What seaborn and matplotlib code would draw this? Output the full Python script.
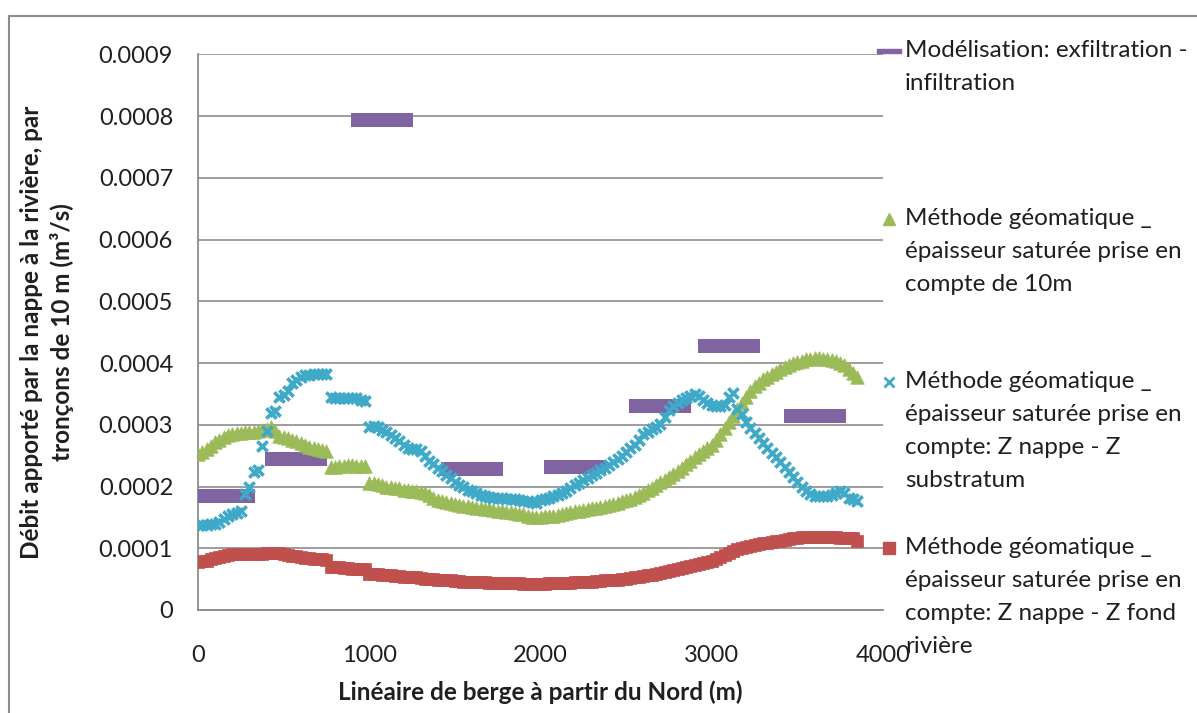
import numpy as np
import pandas as pd
import seaborn as sns
import matplotlib.pyplot as plt
from matplotlib.lines import Line2D

# %% Data (debits in 1e-4 m3/s, one reading every 25 m along the bank)

x_m = np.arange(0, 3851, 25)

red_fond = [0.78, 0.79, 0.80, 0.82, 0.84, 0.86, 0.88, 0.89, 0.90, 0.90,
            0.90, 0.90, 0.91, 0.91, 0.91, 0.91, 0.92, 0.92, 0.92, 0.92,
            0.90, 0.89, 0.88, 0.87, 0.86, 0.85, 0.84, 0.83, 0.82, 0.82,
            0.81, 0.70, 0.69, 0.69, 0.68, 0.68, 0.67, 0.67, 0.66, 0.66,
            0.59, 0.58, 0.58, 0.57, 0.56, 0.56, 0.55, 0.55, 0.54, 0.54,
            0.53, 0.53, 0.52, 0.51, 0.50, 0.50, 0.49, 0.49, 0.48, 0.48,
            0.47, 0.47, 0.46, 0.46, 0.46, 0.45, 0.45, 0.45, 0.44, 0.44,
            0.44, 0.44, 0.43, 0.43, 0.43, 0.43, 0.42, 0.42, 0.42, 0.42,
            0.42, 0.42, 0.43, 0.43, 0.43, 0.43, 0.44, 0.44, 0.45, 0.45,
            0.46, 0.46, 0.46, 0.47, 0.47, 0.48, 0.48, 0.49, 0.49, 0.50,
            0.51, 0.52, 0.53, 0.54, 0.55, 0.56, 0.57, 0.59, 0.60, 0.62,
            0.63, 0.65, 0.66, 0.68, 0.70, 0.71, 0.73, 0.74, 0.76, 0.78,
            0.80, 0.83, 0.86, 0.89, 0.92, 0.95, 0.98, 1.00, 1.02, 1.04,
            1.05, 1.07, 1.08, 1.09, 1.10, 1.11, 1.12, 1.14, 1.15, 1.16,
            1.17, 1.18, 1.19, 1.19, 1.19, 1.19, 1.19, 1.19, 1.18, 1.18,
            1.17, 1.17, 1.17, 1.16, 1.12]

green_10m = [2.52, 2.56, 2.60, 2.66, 2.72, 2.76, 2.80, 2.83, 2.85, 2.86,
             2.87, 2.88, 2.89, 2.89, 2.90, 2.91, 2.93, 2.96, 2.90, 2.82,
             2.80, 2.78, 2.76, 2.73, 2.70, 2.67, 2.64, 2.62, 2.60, 2.59,
             2.58, 2.32, 2.32, 2.33, 2.34, 2.35, 2.35, 2.34, 2.33, 2.33,
             2.06, 2.05, 2.04, 2.02, 2.00, 1.99, 1.98, 1.97, 1.95, 1.94,
             1.93, 1.92, 1.91, 1.89, 1.86, 1.82, 1.78, 1.77, 1.75, 1.74,
             1.72, 1.70, 1.69, 1.68, 1.67, 1.66, 1.65, 1.64, 1.63, 1.62,
             1.61, 1.60, 1.59, 1.58, 1.57, 1.56, 1.55, 1.53, 1.51, 1.50,
             1.51, 1.52, 1.53, 1.53, 1.54, 1.55, 1.57, 1.58, 1.60, 1.61,
             1.62, 1.63, 1.65, 1.66, 1.67, 1.68, 1.70, 1.72, 1.74, 1.76,
             1.78, 1.80, 1.83, 1.86, 1.90, 1.94, 1.98, 2.02, 2.07, 2.11,
             2.15, 2.20, 2.25, 2.30, 2.36, 2.41, 2.47, 2.52, 2.57, 2.62,
             2.67, 2.76, 2.85, 2.95, 3.05, 3.15, 3.25, 3.35, 3.45, 3.54,
             3.62, 3.68, 3.74, 3.78, 3.82, 3.86, 3.90, 3.94, 3.97, 4.00,
             4.02, 4.04, 4.06, 4.07, 4.08, 4.08, 4.07, 4.06, 4.05, 4.04,
             4.00, 3.96, 3.90, 3.84, 3.77]

cyan_subst = [1.38, 1.38, 1.38, 1.39, 1.40, 1.42, 1.48, 1.52, 1.55, 1.57,
              1.60, 1.88, 2.00, 2.24, 2.26, 2.65, 2.90, 3.19, 3.22, 3.45,
              3.49, 3.55, 3.68, 3.72, 3.78, 3.80, 3.81, 3.82, 3.82, 3.83,
              3.83, 3.45, 3.44, 3.43, 3.43, 3.44, 3.44, 3.43, 3.40, 3.38,
              2.97, 2.98, 2.96, 2.92, 2.88, 2.84, 2.78, 2.73, 2.67, 2.62,
              2.60, 2.60, 2.58, 2.50, 2.42, 2.36, 2.30, 2.25, 2.19, 2.14,
              2.08, 2.03, 1.99, 1.95, 1.92, 1.89, 1.86, 1.84, 1.83, 1.82,
              1.81, 1.81, 1.80, 1.80, 1.79, 1.78, 1.77, 1.76, 1.75, 1.74,
              1.78, 1.80, 1.82, 1.84, 1.86, 1.89, 1.93, 1.97, 2.02, 2.06,
              2.10, 2.14, 2.18, 2.22, 2.26, 2.30, 2.35, 2.40, 2.45, 2.50,
              2.56, 2.62, 2.68, 2.76, 2.85, 2.89, 2.93, 2.96, 3.02, 3.12,
              3.24, 3.30, 3.35, 3.40, 3.44, 3.47, 3.50, 3.46, 3.40, 3.36,
              3.32, 3.30, 3.30, 3.32, 3.45, 3.52, 3.25, 3.18, 3.05, 2.95,
              2.86, 2.78, 2.70, 2.62, 2.55, 2.47, 2.40, 2.32, 2.24, 2.16,
              2.08, 2.00, 1.92, 1.88, 1.85, 1.84, 1.84, 1.85, 1.87, 1.90,
              1.93, 1.90, 1.82, 1.79, 1.76]

model_x = [150, 575, 1075, 1600, 2200, 2700, 3100, 3600]
model_q = [1.85, 2.45, 7.93, 2.29, 2.31, 3.31, 4.28, 3.15]

labels = ["Modélisation: exfiltration -\ninfiltration",
          "Méthode géomatique _\népaisseur saturée prise en\ncompte de 10m",
          "Méthode géomatique _\népaisseur saturée prise en\ncompte: Z nappe - Z\nsubstratum",
          "Méthode géomatique _\népaisseur saturée prise en\ncompte: Z nappe - Z fond\nrivière"]

y_ticks = [0, 0.0001, 0.0002, 0.0003, 0.0004, 0.0005, 0.0006, 0.0007, 0.0008, 0.0009]
y_tick_labels = ["0", "0.0001", "0.0002", "0.0003", "0.0004", "0.0005",
                 "0.0006", "0.0007", "0.0008", "0.0009"]
x_ticks = [0, 1000, 2000, 3000, 4000]

df = pd.DataFrame({"x": x_m,
                   "fond": np.array(red_fond) * 1e-4,
                   "dixm": np.array(green_10m) * 1e-4,
                   "subst": np.array(cyan_subst) * 1e-4})
dm = pd.DataFrame({"x": model_x, "q": np.array(model_q) * 1e-4})

# %% Plot

sns.set_style("white")
plt.rcParams["font.family"] = ["Lato", "DejaVu Sans"]
txt = "#1f1f1f"
grey = "#8c8c8c"
purple, green, cyan, red = "#8064A2", "#9BBB59", "#3FA9C8", "#C0504D"

W, H = 1197, 713
fig = plt.figure(figsize=(W / 100, H / 100), dpi=100)
ax = fig.add_axes([198 / W, 103 / H, 685 / W, 555.7 / H])

bar = [(-1, -0.21), (1, -0.21), (1, 0.21), (-1, 0.21), (-1, -0.21)]
sns.scatterplot(data=dm, x="x", y="q", marker=bar, s=2025, color=purple,
                linewidth=0, ax=ax, zorder=3)
sns.scatterplot(data=df, x="x", y="dixm", marker="^", s=95, color=green,
                edgecolor=green, linewidth=0.5, ax=ax, zorder=4)
sns.scatterplot(data=df, x="x", y="subst", marker="x", s=55, color=cyan,
                linewidth=2.6, ax=ax, zorder=5)
sns.scatterplot(data=df, x="x", y="fond", marker="s", s=80, color=red,
                edgecolor=red, linewidth=0.5, ax=ax, zorder=6)

ax.set_xlim(0, 4000)
ax.set_ylim(0, 0.0009)
ax.set_yticks(y_ticks)
ax.set_yticklabels(y_tick_labels)
ax.set_xticks(x_ticks)
ax.grid(axis="y", color=grey, lw=1.2)
ax.grid(axis="x", visible=False)
ax.set_axisbelow(True)
for s in ["top", "right"]:
    ax.spines[s].set_visible(False)
for s in ["left", "bottom"]:
    ax.spines[s].set_color(grey)
    ax.spines[s].set_linewidth(1.3)
ax.tick_params(axis="y", length=6, width=1.2, color=grey, pad=12,
               labelsize=17, labelcolor=txt)
ax.tick_params(axis="x", length=6, width=1.2, color=grey, pad=19,
               labelsize=17, labelcolor=txt)

ax.set_xlabel("Linéaire de berge à partir du Nord (m)", fontsize=17.5,
              fontweight="bold", color=txt)
ax.xaxis.set_label_coords(0.5, -0.1476)
ax.xaxis.label.set_va("center")
ax.set_ylabel("Débit apporté par la nappe à la rivière, par\ntronçons de 10 m (m³/s)",
              fontsize=17.5, fontweight="bold", color=txt, linespacing=1.35)
ax.yaxis.set_label_coords(-0.2204, 0.5)
ax.yaxis.label.set_va("center")

# legend, Excel-like: key beside the first line of each label
keys = [dict(marker=bar, markersize=17, color=purple),
        dict(marker="^", markersize=9, color=green),
        dict(marker="x", markersize=7, color=cyan, markeredgewidth=2),
        dict(marker="s", markersize=9, color=red)]
rows = [51, 219, 382, 548]
for lab, k, r in zip(labels, keys, rows):
    fig.add_artist(Line2D([889 / W], [1 - r / H], linestyle="none",
                          transform=fig.transFigure, **k))
    for i, line in enumerate(lab.split("\n")):
        fig.text(905 / W, 1 - (r + 6 + 33 * i) / H, line, fontsize=17.5,
                 color=txt, va="baseline", ha="left")

# chart border (only top/left visible in the crop)
fig.add_artist(Line2D([9 / W, 9 / W], [0, 1 - 16 / H], color=grey, lw=1.5,
                      transform=fig.transFigure))
fig.add_artist(Line2D([9 / W, 1], [1 - 16 / H, 1 - 16 / H], color=grey, lw=1.5,
                      transform=fig.transFigure))

fig.savefig("out.png", dpi=100)
